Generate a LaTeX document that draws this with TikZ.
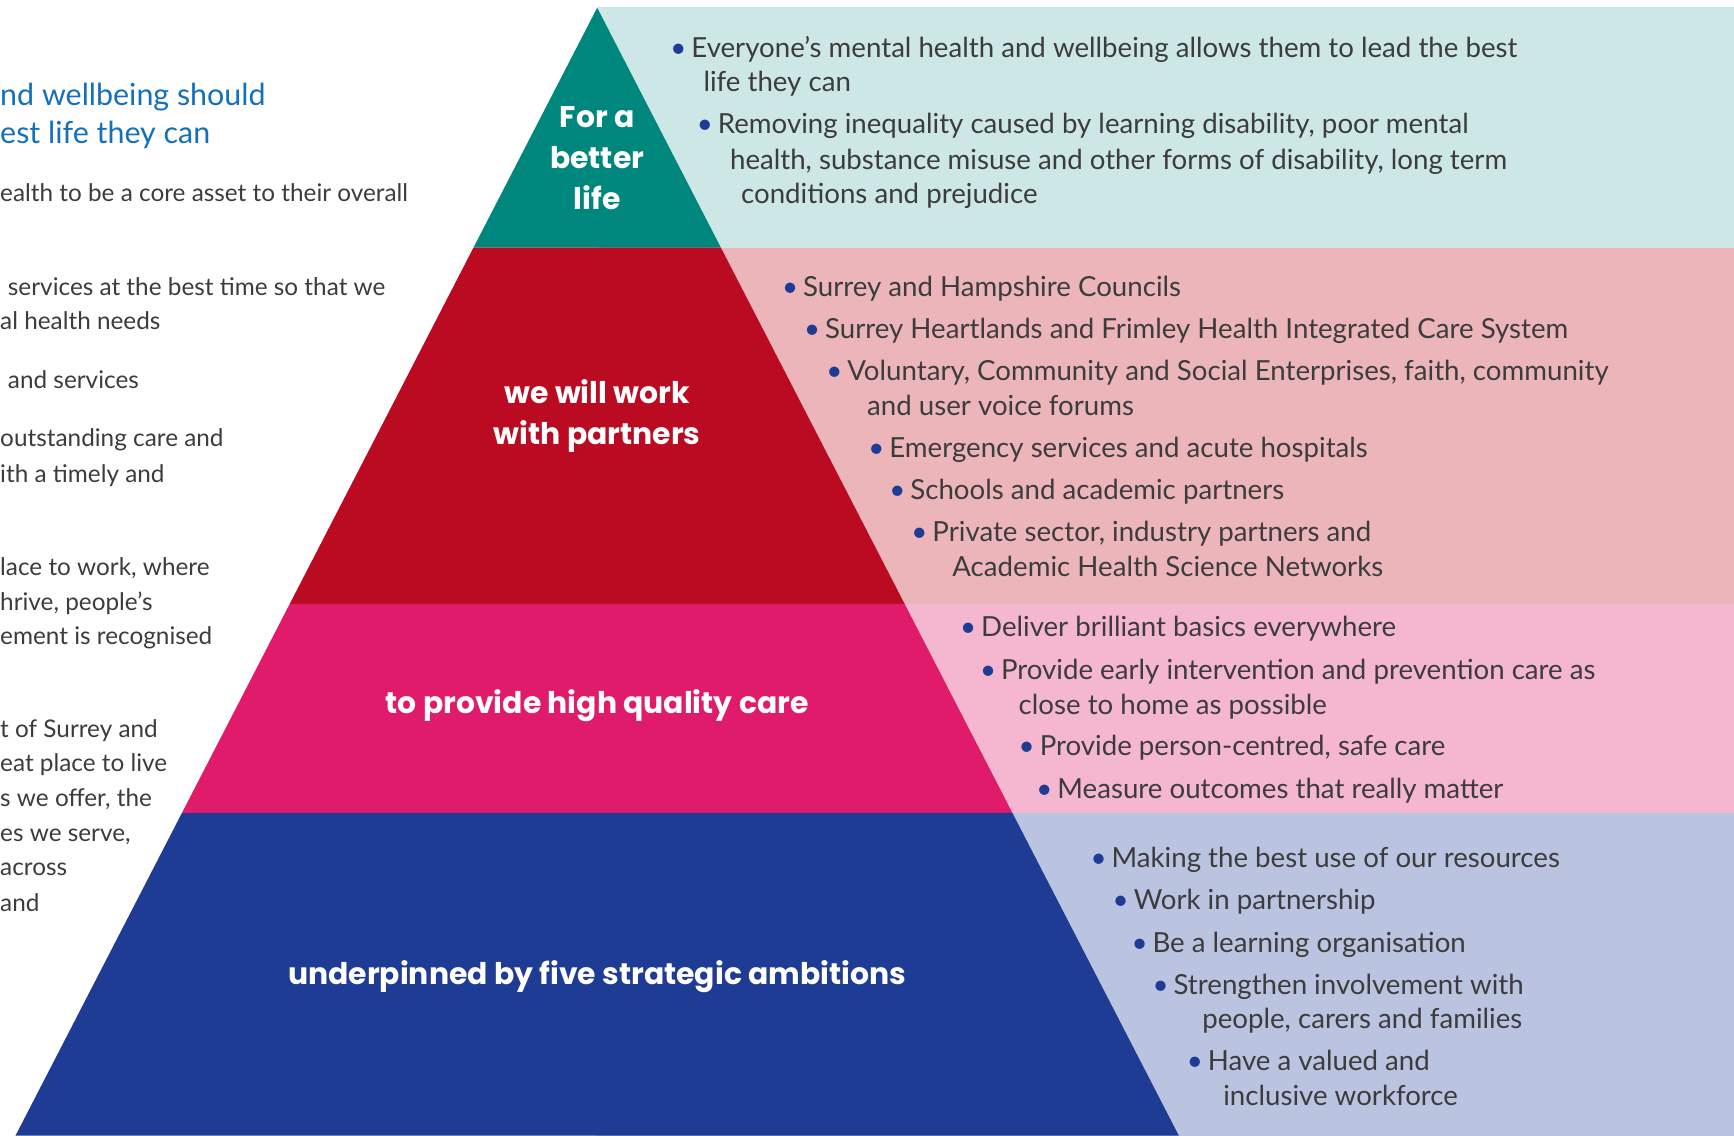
\documentclass[tikz,border=0pt]{standalone}
\usepackage{fontspec}
\setmainfont{Lato}
\newfontfamily\labelfont{Poppins}
\definecolor{teal}{HTML}{00877D}
\definecolor{tealpale}{HTML}{CDE6E6}
\definecolor{crimson}{HTML}{BA0B22}
\definecolor{crimsonpale}{HTML}{ECB5BA}
\definecolor{magenta}{HTML}{E01B6C}
\definecolor{magentapale}{HTML}{F5B7D0}
\definecolor{navy}{HTML}{1F3C94}
\definecolor{navypale}{HTML}{BAC4E0}
\definecolor{textgrey}{HTML}{3C3C3C}
\definecolor{headblue}{HTML}{1470BB}
\newcommand\dotmark{\makebox[16pt][l]{\hspace{-3pt}\textcolor{navy}{\textbullet}}}
\tikzset{
  band label/.style={text=white,font=\labelfont\bfseries\fontsize{27}{37}\selectfont,align=center,inner sep=0pt},
  item/.style={anchor=base west,inner sep=0pt,text=textgrey,font=\fontsize{25}{31}\selectfont,yshift=-10pt},
  left line/.style={item,font=\fontsize{22}{31}\selectfont,yshift=1pt},
  heading/.style={item,text=headblue,font=\fontsize{27.5}{35}\selectfont,yshift=-1pt}
}
\begin{document}
\begin{tikzpicture}[x=1pt,y=-1pt]
\useasboundingbox (0,0) rectangle (1568,1027);
% panels behind the pyramid
\foreach \a/\b/\c in {6/224/tealpale,224/546/crimsonpale,546/735/magentapale,735/1027/navypale}
    \fill[\c] (540,\a) rectangle (1568,\b);
% pyramid bands
\foreach \a/\b/\c in {7/224/teal,224/546/crimson,546/735/magenta,735/1027/navy}
    \fill[\c] ({540-0.5157*(\a-7)},\a) -- ({540+0.5157*(\a-7)},\a)
        -- ({540+0.5157*(\b-7)},\b) -- ({540-0.5157*(\b-7)},\b) -- cycle;
\node[band label] (life) at (540,143) {For a\\better\\life};
\node[band label] (partners) at (540,376) {we will work\\with partners};
\node[band label] (care) at (540,638) {to provide high quality care};
\node[band label] (ambitions) at (540,883) {underpinned by five strategic ambitions};
% left column
\node[heading] (h1) at (0,84) {nd wellbeing should};
\node[heading] (h2) at (0,119) {est life they can};
\foreach \n/\x/\y/\t in {
    l1/0/173/{ealth to be a core asset to their overall},
    l2/7/258/{services at the best time so that we},
    l3/0/289/{al health needs},
    l4/7/342/{and services},
    l5/0/395/{outstanding care and},
    l6/0/427/{ith a timely and},
    l7/0/511/{lace to work, where},
    l8/0/543/{hrive, people’s},
    l9/0/574/{ement is recognised},
    l10/0/658/{t of Surrey and},
    l11/0/689/{eat place to live},
    l12/0/720/{s we offer, the},
    l13/0/752/{es we serve,},
    l14/0/783/{across},
    l15/0/815/{and}}
    \node[left line] (\n) at (\x,\y) {\t};
% bullets
\foreach \n/\x/\y/\t in {
    t1/609/42/{\dotmark Everyone’s mental health and wellbeing allows them to lead the best},
    t1b/636/73/{life they can},
    t2/633/111/{\dotmark Removing inequality caused by learning disability, poor mental},
    t2b/660/143/{health, substance misuse and other forms of disability, long term},
    t2c/670/174/{conditions and prejudice},
    r1/710/258/{\dotmark Surrey and Hampshire Councils},
    r2/730/296/{\dotmark Surrey Heartlands and Frimley Health Integrated Care System},
    r3/750/334/{\dotmark Voluntary, Community and Social Enterprises, faith, community},
    r3b/784/366/{and user voice forums},
    r4/788/404/{\dotmark Emergency services and acute hospitals},
    r5/807/442/{\dotmark Schools and academic partners},
    r6/827/480/{\dotmark Private sector, industry partners and},
    r6b/861/511/{Academic Health Science Networks},
    p1/871/566/{\dotmark Deliver brilliant basics everywhere},
    p2/889/604/{\dotmark Provide early intervention and prevention care as},
    p2b/921/636/{close to home as possible},
    p3/924/673/{\dotmark Provide person-centred, safe care},
    p4/940/712/{\dotmark Measure outcomes that really matter},
    n1/989/774/{\dotmark Making the best use of our resources},
    n2/1009/812/{\dotmark Work in partnership},
    n3/1026/851/{\dotmark Be a learning organisation},
    n4/1045/889/{\dotmark Strengthen involvement with},
    n4b/1087/920/{people, carers and families},
    n5/1076/958/{\dotmark Have a valued and},
    n5b/1106/990/{inclusive workforce}}
    \node[item] (\n) at (\x,\y) {\t};
\end{tikzpicture}
\end{document}
